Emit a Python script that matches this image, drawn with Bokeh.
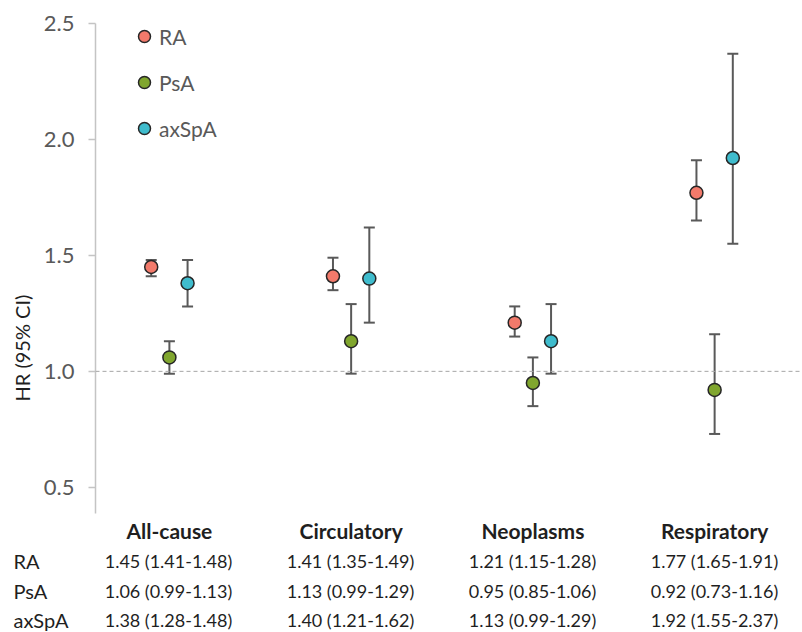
from bokeh.plotting import figure
from bokeh.layouts import column
from bokeh.models import (ColumnDataSource, Whisker, TeeHead, Span, Title,
                          FixedTicker, NumeralTickFormatter, Range1d)
from bokeh.embed import file_html
from bokeh.resources import INLINE

# ---------------- data ----------------
categories = ["All-cause", "Circulatory", "Neoplasms", "Respiratory"]
groups = ["RA", "PsA", "axSpA"]

ra_hr = [1.45, 1.41, 1.21, 1.77]
ra_lo = [1.41, 1.35, 1.15, 1.65]
ra_hi = [1.48, 1.49, 1.28, 1.91]

psa_hr = [1.06, 1.13, 0.95, 0.92]
psa_lo = [0.99, 0.99, 0.85, 0.73]
psa_hi = [1.13, 1.29, 1.06, 1.16]

axspa_hr = [1.38, 1.40, 1.13, 1.92]
axspa_lo = [1.28, 1.21, 0.99, 1.55]
axspa_hi = [1.48, 1.62, 1.29, 2.37]

y_ticks = [0.5, 1.0, 1.5, 2.0, 2.5]

# ---------------- layout constants ----------------
W = 802
HA, HB = 545, 87
FRAME_LEFT, FRAME_TOP, FRAME_BOTTOM = 94, 23, 513
X0, X1 = 0.5934, 4.4835
Y0, Y1 = 0.387, 2.5
PX_X = (W - FRAME_LEFT) / (X1 - X0)

FONT = "Lato"
TXT = "#1f1f1f"
GREY = "#595959"
colors = ["#f27a6b", "#80a62e", "#3fbccd"]
offsets = [-0.1, 0.0, 0.1]
series = [(ra_hr, ra_lo, ra_hi), (psa_hr, psa_lo, psa_hi), (axspa_hr, axspa_lo, axspa_hi)]

p = figure(width=W, height=HA, output_backend="svg", toolbar_location=None,
           x_range=Range1d(X0, X1), y_range=Range1d(Y0, Y1),
           min_border_left=FRAME_LEFT, min_border_right=0, min_border_top=FRAME_TOP,
           min_border_bottom=HA - FRAME_BOTTOM, frame_align=False)
p.outline_line_color = None
p.grid.grid_line_color = None

# y axis
yax = p.yaxis[0]
yax.ticker = FixedTicker(ticks=y_ticks)
yax.formatter = NumeralTickFormatter(format="0.0")
yax.bounds = (Y0, Y1)
yax.axis_line_color = "#c4c4c4"
yax.axis_line_width = 1.5
yax.major_tick_line_color = "#c4c4c4"
yax.major_tick_line_width = 1.5
yax.major_tick_out = 7
yax.major_tick_in = 0
yax.minor_tick_line_color = None
yax.major_label_text_font = FONT
yax.major_label_text_font_size = "22px"
yax.major_label_text_color = GREY
yax.major_label_standoff = 14

# y-axis title
p.add_layout(Title(text="HR (95% CI)", align="left", offset=112, text_font=FONT,
                   text_font_size="20px", text_font_style="normal", text_color=TXT,
                   standoff=14), "left")

# x axis -> category headers
xax = p.xaxis[0]
xax.ticker = FixedTicker(ticks=[1, 2, 3, 4])
xax.major_label_overrides = {i + 1: c for i, c in enumerate(categories)}
xax.axis_line_color = None
xax.major_tick_line_color = None
xax.minor_tick_line_color = None
xax.major_tick_out = 0
xax.major_tick_in = 0
xax.major_label_standoff = 4
xax.major_label_text_font = FONT
xax.major_label_text_font_style = "bold"
xax.major_label_text_font_size = "21px"
xax.major_label_text_color = TXT

# reference line
p.add_layout(Span(location=1.0, dimension="width", line_color="#a6a6a6",
                  line_dash="4 3", line_width=1))

# error bars + points
for name, (hr, lo, hi), col, off in zip(groups, series, colors, offsets):
    xs = [i + 1 + off for i in range(len(categories))]
    src = ColumnDataSource(dict(x=xs, hr=hr, lo=lo, hi=hi))
    wh = Whisker(base="x", upper="hi", lower="lo", source=src, dimension="height",
                 line_color=GREY, line_width=2,
                 upper_head=TeeHead(size=11, line_color=GREY, line_width=2),
                 lower_head=TeeHead(size=11, line_color=GREY, line_width=2))
    p.add_layout(wh)
    p.scatter("x", "hr", source=src, size=13, fill_color=col, line_color="#262626",
              line_width=1.5, legend_label=name)

# legend
lg = p.legend[0]
lg.location = (34, 369)
lg.border_line_color = None
lg.background_fill_alpha = 0
lg.label_text_font = FONT
lg.label_text_font_size = "21px"
lg.label_text_color = GREY
lg.glyph_width = 30
lg.glyph_height = 32
lg.label_height = 32
lg.spacing = 14
lg.padding = 0
lg.margin = 0
lg.label_standoff = 0

# ---------------- table below ----------------
t = figure(width=W, height=HB, output_backend="svg", toolbar_location=None,
           x_range=Range1d(X0 - FRAME_LEFT / PX_X, X1), y_range=Range1d(HB, 0),
           min_border=0, min_border_left=0, min_border_right=0,
           min_border_top=0, min_border_bottom=0, frame_align=False)
t.axis.visible = False
t.grid.grid_line_color = None
t.outline_line_color = None

row_y = [15, 45, 74]
for name, (hr, lo, hi), ry in zip(groups, series, row_y):
    texts = [f"{h:.2f} ({l:.2f}-{u:.2f})" for h, l, u in zip(hr, lo, hi)]
    tsrc = ColumnDataSource(dict(x=[1, 2, 3, 4], y=[ry] * 4, text=texts))
    t.text("x", "y", text="text", source=tsrc, text_align="center",
           text_baseline="middle", text_font={"value": FONT}, text_font_size="18px",
           text_color=TXT)
    t.text(x=[X0 - (FRAME_LEFT - 13) / PX_X], y=[ry], text=[name], text_align="left",
           text_baseline="middle", text_font={"value": FONT}, text_font_size="20px",
           text_color=TXT)

layout = column(p, t, spacing=0)
open("out.html", "w").write(file_html(layout, INLINE))
